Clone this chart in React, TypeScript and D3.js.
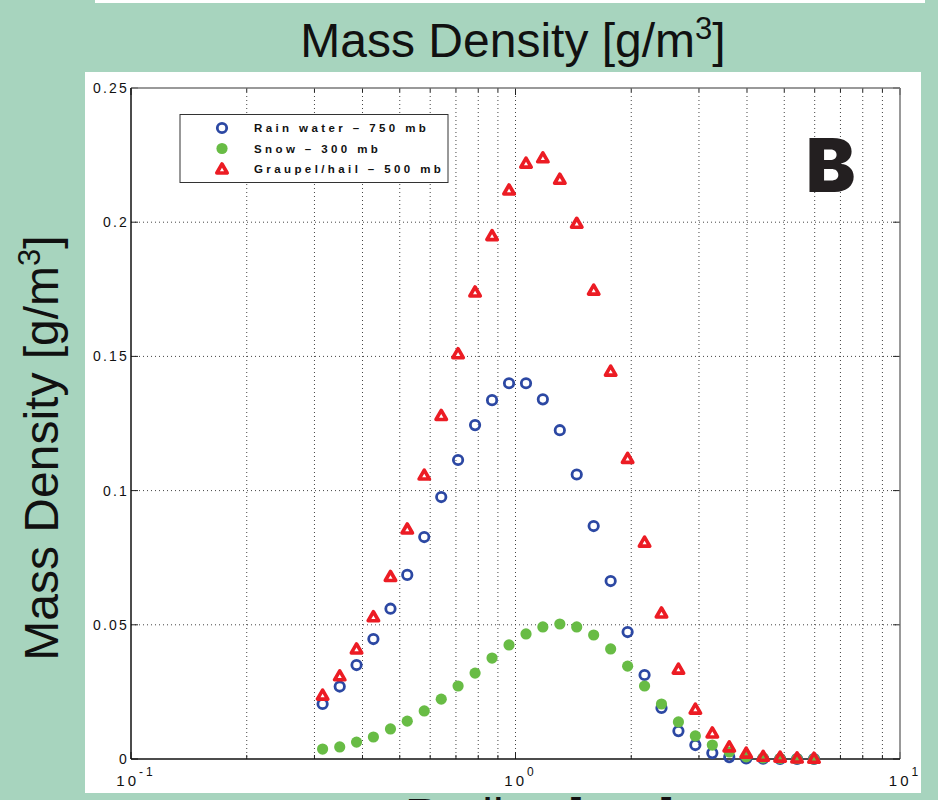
import React, { useEffect, useRef } from "react";
import * as d3 from "d3";

// radius of each bin [mm]
const radius = [0.315, 0.349, 0.386, 0.427, 0.473, 0.523, 0.579, 0.641, 0.709, 0.785,
  0.869, 0.962, 1.065, 1.178, 1.304, 1.443, 1.597, 1.768, 1.957, 2.166,
  2.397, 2.653, 2.936, 3.25, 3.597, 3.981, 4.406, 4.877, 5.398, 5.975];

const rainWater = [0.0205, 0.027, 0.035, 0.0447, 0.056, 0.0686, 0.0827, 0.0976, 0.1114, 0.1244,
  0.1337, 0.14, 0.14, 0.134, 0.1225, 0.106, 0.0868, 0.0663, 0.0473, 0.0313,
  0.019, 0.0104, 0.0052, 0.0022, 0.0007, 0.0002, 0.0001, 0, 0, 0];

const snow = [0.0037, 0.0045, 0.0063, 0.0082, 0.0112, 0.0141, 0.0179, 0.0223, 0.0272, 0.032,
  0.0376, 0.0425, 0.0466, 0.0492, 0.0503, 0.0492, 0.0462, 0.041, 0.0346, 0.0272,
  0.0205, 0.0138, 0.0086, 0.0052, 0.0026, 0.0008, 0.0004, 0.0002, 0.0001, 0];

const graupel = [0.0238, 0.031, 0.041, 0.053, 0.068, 0.0857, 0.1058, 0.128, 0.151, 0.174,
  0.195, 0.212, 0.222, 0.224, 0.216, 0.1996, 0.1747, 0.1445, 0.112, 0.0808,
  0.0544, 0.0335, 0.0186, 0.0097, 0.0045, 0.0022, 0.001, 0.0007, 0.0004, 0.0003];

const legendLabels = ["Rain water \u2013 750 mb", "Snow \u2013 300 mb", "Graupel/hail \u2013 500 mb"];
const yTicks = [0, 0.05, 0.1, 0.15, 0.2, 0.25];
const yTickLabels = ["0", "0.05", "0.1", "0.15", "0.2", "0.25"];
const xDecades = [0.1, 1, 10];
const xExponents = ["-1", "0", "1"];

const BLUE = "#2c48a3";
const GREEN = "#68bc45";
const RED = "#ec1c24";

const App = () => {
  const svgRef = useRef(null);

  useEffect(() => {
    const svg = d3.select(svgRef.current);
    svg.selectAll("*").remove();

    const width = 938, height = 800;
    const plot = { left: 131, right: 900, top: 88, bottom: 759 };

    // fond vert + panneaux blancs
    svg.append("rect").attr("width", width).attr("height", height).attr("fill", "#a7d4be");
    svg.append("rect").attr("x", 95).attr("y", 0).attr("width", 830).attr("height", 3).attr("fill", "white");
    svg.append("rect").attr("x", 85).attr("y", 72).attr("width", 836).attr("height", 721).attr("fill", "white");

    const x = d3.scaleLog().domain([0.1, 10]).range([plot.left, plot.right]);
    const y = d3.scaleLinear().domain([0, 0.25]).range([plot.bottom, plot.top]);

    // minor log positions
    const minor = [];
    [0.1, 1].forEach(dec => {
      for (let k = 2; k <= 9; k++) minor.push(dec * k);
    });

    const grid = svg.append("g");
    minor.concat([1]).forEach(v => {
      grid.append("line")
        .attr("x1", x(v)).attr("x2", x(v))
        .attr("y1", plot.top).attr("y2", plot.bottom)
        .attr("stroke", "#444").attr("stroke-width", 1)
        .attr("stroke-dasharray", "1,3");
    });
    yTicks.slice(1, -1).forEach(v => {
      grid.append("line")
        .attr("x1", plot.left).attr("x2", plot.right)
        .attr("y1", y(v)).attr("y2", y(v))
        .attr("stroke", "#444").attr("stroke-width", 1)
        .attr("stroke-dasharray", "1,3");
    });

    // ticks (inward, all four sides)
    const ticks = svg.append("g").attr("stroke", "#222").attr("stroke-width", 1);
    yTicks.forEach(v => {
      ticks.append("line").attr("x1", plot.left).attr("x2", plot.left + 7).attr("y1", y(v)).attr("y2", y(v));
      ticks.append("line").attr("x1", plot.right).attr("x2", plot.right - 7).attr("y1", y(v)).attr("y2", y(v));
    });
    minor.concat(xDecades).forEach(v => {
      const len = xDecades.includes(v) ? 7 : 4;
      ticks.append("line").attr("x1", x(v)).attr("x2", x(v)).attr("y1", plot.bottom).attr("y2", plot.bottom - len);
      ticks.append("line").attr("x1", x(v)).attr("x2", x(v)).attr("y1", plot.top).attr("y2", plot.top + len);
    });

    // cadre
    svg.append("line").attr("x1", plot.left).attr("x2", plot.right).attr("y1", plot.top).attr("y2", plot.top)
      .attr("stroke", "#777").attr("stroke-width", 1.5);
    svg.append("line").attr("x1", plot.right).attr("x2", plot.right).attr("y1", plot.top).attr("y2", plot.bottom)
      .attr("stroke", "#777").attr("stroke-width", 1.5);
    svg.append("line").attr("x1", plot.left).attr("x2", plot.right).attr("y1", plot.bottom).attr("y2", plot.bottom)
      .attr("stroke", "#111").attr("stroke-width", 1.5);
    svg.append("line").attr("x1", plot.left).attr("x2", plot.left).attr("y1", plot.top).attr("y2", plot.bottom)
      .attr("stroke", "#111").attr("stroke-width", 1.5);

    // y tick labels
    const tickFont = "'Liberation Sans', Arial, sans-serif";
    yTicks.forEach((v, i) => {
      svg.append("text")
        .attr("x", plot.left - 2)
        .attr("y", y(v) + 5)
        .attr("text-anchor", "end")
        .attr("font-family", tickFont)
        .attr("font-size", 14)
        .attr("letter-spacing", 2.2)
        .attr("fill", "#111")
        .text(yTickLabels[i]);
    });

    // x tick labels 10^n
    xDecades.forEach((v, i) => {
      const t = svg.append("text")
        .attr("x", x(v) + 5)
        .attr("y", 786)
        .attr("text-anchor", "middle")
        .attr("font-family", tickFont)
        .attr("font-size", 15)
        .attr("letter-spacing", 3)
        .attr("fill", "#111");
      t.append("tspan").text("10");
      t.append("tspan").attr("dy", -10).attr("font-size", 12).text(xExponents[i]);
    });

    // series
    const rainData = radius.map((r, i) => ({ r, v: rainWater[i] }));
    const snowData = radius.map((r, i) => ({ r, v: snow[i] }));
    const graupelData = radius.map((r, i) => ({ r, v: graupel[i] }));

    const tri = "M0,-5L5.2,4L-5.2,4Z";

    svg.append("g").selectAll("circle").data(rainData).join("circle")
      .attr("cx", d => x(d.r)).attr("cy", d => y(d.v)).attr("r", 4.7)
      .attr("fill", "none").attr("stroke", BLUE).attr("stroke-width", 2.8);

    svg.append("g").selectAll("circle").data(snowData).join("circle")
      .attr("cx", d => x(d.r)).attr("cy", d => y(d.v)).attr("r", 5.6)
      .attr("fill", GREEN);

    svg.append("g").selectAll("path").data(graupelData).join("path")
      .attr("transform", d => `translate(${x(d.r)},${y(d.v)})`)
      .attr("d", tri)
      .attr("fill", "none").attr("stroke", RED).attr("stroke-width", 3.6).attr("stroke-linejoin", "round");

    // legende
    const lg = svg.append("g");
    lg.append("rect").attr("x", 180).attr("y", 114.5).attr("width", 268).attr("height", 68)
      .attr("fill", "white").attr("stroke", "#333").attr("stroke-width", 1);
    const rows = [128, 148.5, 169];
    lg.append("circle").attr("cx", 222).attr("cy", rows[0]).attr("r", 4.7)
      .attr("fill", "none").attr("stroke", BLUE).attr("stroke-width", 2.8);
    lg.append("circle").attr("cx", 222).attr("cy", rows[1]).attr("r", 5.6).attr("fill", GREEN);
    lg.append("path").attr("transform", `translate(222,${rows[2]})`).attr("d", tri)
      .attr("fill", "none").attr("stroke", RED).attr("stroke-width", 3.6).attr("stroke-linejoin", "round");
    legendLabels.forEach((label, i) => {
      lg.append("text")
        .attr("x", 254).attr("y", rows[i] + 4)
        .attr("font-family", tickFont)
        .attr("font-size", 11.5)
        .attr("font-weight", "bold")
        .attr("letter-spacing", 3.4)
        .attr("fill", "#111")
        .text(label);
    });

    // grande lettre B
    svg.append("text")
      .attr("x", 806).attr("y", 192)
      .attr("font-family", "Inter, Roboto, 'DejaVu Sans', sans-serif")
      .attr("font-weight", 900)
      .attr("font-size", 74)
      .attr("fill", "#231f20")
      .text("B");

    // titres
    const bigFont = "'Liberation Sans', Arial, sans-serif";
    const title = svg.append("text")
      .attr("x", 513).attr("y", 57)
      .attr("text-anchor", "middle")
      .attr("font-family", bigFont)
      .attr("font-size", 48)
      .attr("fill", "#111");
    title.append("tspan").text("Mass Density [g/m");
    title.append("tspan").attr("dy", -18).attr("font-size", 31).text("3");
    title.append("tspan").attr("dy", 18).text("]");

    const ylab = svg.append("text")
      .attr("transform", "translate(58,448) rotate(-90)")
      .attr("text-anchor", "middle")
      .attr("font-family", bigFont)
      .attr("font-size", 48)
      .attr("fill", "#111");
    ylab.append("tspan").text("Mass Density [g/m");
    ylab.append("tspan").attr("dy", -18).attr("font-size", 31).text("3");
    ylab.append("tspan").attr("dy", 18).text("]");

    // titre axe x (coupé par le bas)
    svg.append("text")
      .attr("x", 405).attr("y", 832)
      .attr("font-family", bigFont)
      .attr("font-size", 48)
      .attr("fill", "#111")
      .text("Radius [mm]");
  }, []);

  return (
    <svg ref={svgRef} width="938" height="800"
      style={{ position: "absolute", left: 0, top: 0, display: "block" }}></svg>
  );
};

export default App;
